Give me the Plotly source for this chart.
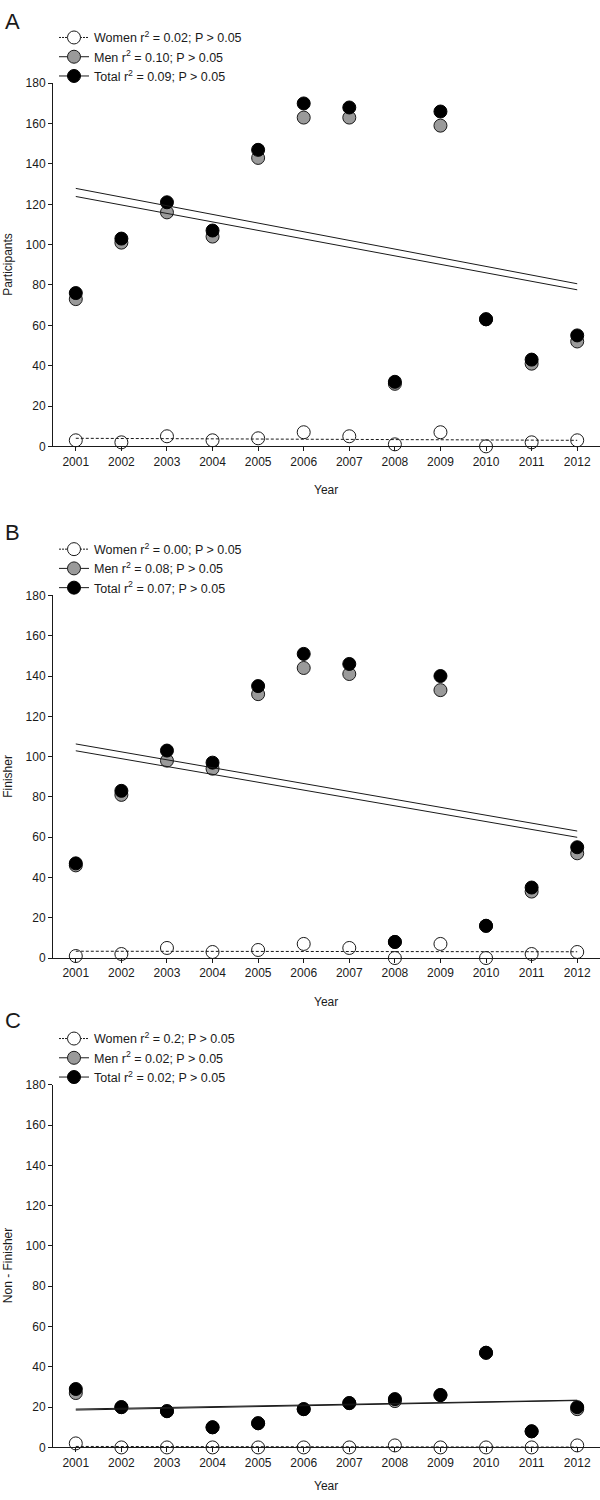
import numpy as np
import plotly.graph_objects as go

years = [2001, 2002, 2003, 2004, 2005, 2006, 2007, 2008, 2009, 2010, 2011, 2012]

# Panel A - Participants
part_women = [3, 2, 5, 3, 4, 7, 5, 1, 7, 0, 2, 3]
part_men = [73, 101, 116, 104, 143, 163, 163, 31, 159, 63, 41, 52]
part_total = [76, 103, 121, 107, 147, 170, 168, 32, 166, 63, 43, 55]

# Panel B - Finisher
fin_women = [1, 2, 5, 3, 4, 7, 5, 0, 7, 0, 2, 3]
fin_men = [46, 81, 98, 94, 131, 144, 141, 8, 133, 16, 33, 52]
fin_total = [47, 83, 103, 97, 135, 151, 146, 8, 140, 16, 35, 55]

# Panel C - Non-Finisher
non_women = [2, 0, 0, 0, 0, 0, 0, 1, 0, 0, 0, 1]
non_men = [27, 20, 18, 10, 12, 19, 22, 23, 26, 47, 8, 19]
non_total = [29, 20, 18, 10, 12, 19, 22, 24, 26, 47, 8, 20]

panel_letters = ["A", "B", "C"]
y_titles = ["Participants", "Finisher", "Non - Finisher"]
legend_texts = [
    ["Women r<sup>2</sup> = 0.02; P > 0.05", "Men r<sup>2</sup> = 0.10; P > 0.05", "Total r<sup>2</sup> = 0.09; P > 0.05"],
    ["Women r<sup>2</sup> = 0.00; P > 0.05", "Men r<sup>2</sup> = 0.08; P > 0.05", "Total r<sup>2</sup> = 0.07; P > 0.05"],
    ["Women r<sup>2</sup> = 0.2; P > 0.05", "Men r<sup>2</sup> = 0.02; P > 0.05", "Total r<sup>2</sup> = 0.02; P > 0.05"],
]
y_ticks = [0, 20, 40, 60, 80, 100, 120, 140, 160, 180]

W, H = 600, 1500
FONT = "Liberation Sans, Arial, Helvetica, sans-serif"
INK = "#1a1a1a"
GRAY = "#9a9a9a"

def py(p):
    return 1 - p / H

def px(p):
    return p / W

# pixel geometry of each panel: (y of 0, y of 180, panel letter y, legend top y, year label y)
panels = [
    dict(y0=443.5, y180=77.0, letter=15, leg=16, year=488),
    dict(y0=960.0, y180=594.0, letter=530, leg=532.5, year=1004),
    dict(y0=1454.0, y180=1088.0, letter=1023, leg=1026.5, year=1493),
]
x_left = 53

data = [
    (part_women, part_men, part_total),
    (fin_women, fin_men, fin_total),
    (non_women, non_men, non_total),
]

fig = go.Figure()
xs = np.array(years, dtype=float)

for i, (w, m, t) in enumerate(data):
    xa = "x" if i == 0 else f"x{i+1}"
    ya = "y" if i == 0 else f"y{i+1}"
    lg = "legend" if i == 0 else f"legend{i+1}"
    xfit = np.array([years[0], years[-1]], dtype=float)

    def fit(vals):
        k, b = np.polyfit(xs, np.array(vals, dtype=float), 1)
        return k * xfit + b

    # markers
    fig.add_trace(go.Scatter(x=years, y=w, mode="markers", xaxis=xa, yaxis=ya, showlegend=False,
                             cliponaxis=False,
                             marker=dict(size=13, color="white", line=dict(color=INK, width=1))))
    fig.add_trace(go.Scatter(x=years, y=m, mode="markers", xaxis=xa, yaxis=ya, showlegend=False,
                             cliponaxis=False,
                             marker=dict(size=13, color=GRAY, line=dict(color=INK, width=1))))
    fig.add_trace(go.Scatter(x=years, y=t, mode="markers", xaxis=xa, yaxis=ya, showlegend=False,
                             cliponaxis=False,
                             marker=dict(size=13, color="black", line=dict(color="black", width=1))))
    # regression lines
    fig.add_trace(go.Scatter(x=xfit, y=fit(w), mode="lines", xaxis=xa, yaxis=ya, showlegend=False,
                             line=dict(color=INK, width=1, dash="3px,2px")))
    fig.add_trace(go.Scatter(x=xfit, y=fit(m), mode="lines", xaxis=xa, yaxis=ya, showlegend=False,
                             line=dict(color=INK, width=1)))
    fig.add_trace(go.Scatter(x=xfit, y=fit(t), mode="lines", xaxis=xa, yaxis=ya, showlegend=False,
                             line=dict(color=INK, width=1)))
    # legend entries
    lt = legend_texts[i]
    fig.add_trace(go.Scatter(x=[None], y=[None], mode="lines+markers", xaxis=xa, yaxis=ya, name=lt[0],
                             legend=lg, line=dict(color=INK, width=1, dash="2px,1px"),
                             marker=dict(size=13, color="white", line=dict(color=INK, width=1))))
    fig.add_trace(go.Scatter(x=[None], y=[None], mode="lines+markers", xaxis=xa, yaxis=ya, name=lt[1],
                             legend=lg, line=dict(color=INK, width=1),
                             marker=dict(size=13, color=GRAY, line=dict(color=INK, width=1))))
    fig.add_trace(go.Scatter(x=[None], y=[None], mode="lines+markers", xaxis=xa, yaxis=ya, name=lt[2],
                             legend=lg, line=dict(color=INK, width=1),
                             marker=dict(size=13, color="black", line=dict(color="black", width=1))))

layout = dict(
    width=W, height=H,
    margin=dict(l=0, r=0, t=0, b=0),
    paper_bgcolor="white", plot_bgcolor="white",
    font=dict(family=FONT, color=INK, size=12),
    annotations=[],
)

axis_common = dict(showgrid=False, zeroline=False, showline=True, linecolor=INK, linewidth=1,
                   ticks="outside", ticklen=4, tickwidth=1, tickcolor=INK,
                   tickfont=dict(family=FONT, size=12, color=INK))

for i, p in enumerate(panels):
    sx = "" if i == 0 else str(i + 1)
    layout[f"xaxis{sx}"] = dict(axis_common, domain=[px(x_left), 1.0], range=[2000.5, 2012.5],
                                tickvals=years, ticktext=[str(y) for y in years],
                                anchor=f"y{sx}")
    layout[f"yaxis{sx}"] = dict(axis_common, domain=[py(p["y0"]), py(p["y180"])], range=[0, 180],
                                tickvals=y_ticks, anchor=f"x{sx}")
    lg = "legend" if i == 0 else f"legend{i+1}"
    layout[lg] = dict(x=px(54), y=py(p["leg"]), xanchor="left", yanchor="top",
                      bgcolor="rgba(0,0,0,0)", borderwidth=0,
                      font=dict(family=FONT, size=12.5, color=INK), tracegroupgap=0)
    layout["annotations"] += [
        dict(text=panel_letters[i], x=px(3), y=py(p["letter"]), xref="paper", yref="paper",
             xanchor="left", yanchor="middle", showarrow=False,
             font=dict(family=FONT, size=22, color=INK)),
        dict(text=y_titles[i], x=px(8), y=py((p["y0"] + p["y180"]) / 2), xref="paper", yref="paper",
             xanchor="center", yanchor="middle", showarrow=False, textangle=-90,
             font=dict(family=FONT, size=12, color=INK)),
        dict(text="Year", x=px(326), y=py(p["year"]), xref="paper", yref="paper",
             xanchor="center", yanchor="middle", showarrow=False,
             font=dict(family=FONT, size=12, color=INK)),
    ]

fig.update_layout(**layout)
fig.write_html(
    "out.html",
    config={"displayModeBar": False},
    post_script=(
        "document.documentElement.style.margin='0';document.body.style.margin='0';"
        "document.documentElement.style.overflow='hidden';document.body.style.overflow='hidden';"
        "var d=document.getElementById('{plot_id}');d.style.position='fixed';d.style.top='0';d.style.left='0';"
    ),
)
